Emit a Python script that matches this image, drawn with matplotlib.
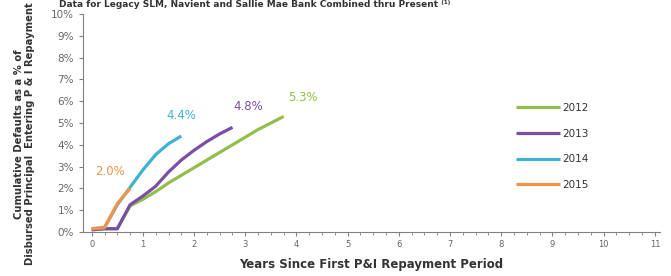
import numpy as np
import matplotlib.pyplot as plt
from matplotlib.ticker import MultipleLocator, FuncFormatter

# data (quarterly points, years since first P&I repayment)
years_2012 = [0, 0.25, 0.5, 0.75, 1.0, 1.25, 1.5, 1.75, 2.0, 2.25, 2.5, 2.75, 3.0, 3.25, 3.5, 3.75]
vals_2012 = [0.1, 0.15, 0.15, 1.2, 1.5, 1.85, 2.25, 2.6, 2.95, 3.3, 3.65, 4.0, 4.35, 4.7, 5.0, 5.3]

years_2013 = [0, 0.25, 0.5, 0.75, 1.0, 1.25, 1.5, 1.75, 2.0, 2.25, 2.5, 2.75]
vals_2013 = [0.1, 0.15, 0.15, 1.25, 1.65, 2.1, 2.75, 3.3, 3.75, 4.15, 4.5, 4.8]

years_2014 = [0, 0.25, 0.5, 0.75, 1.0, 1.25, 1.5, 1.75]
vals_2014 = [0.15, 0.2, 1.25, 2.05, 2.85, 3.55, 4.05, 4.4]

years_2015 = [0, 0.25, 0.5, 0.75]
vals_2015 = [0.15, 0.2, 1.3, 2.0]

labels = ["2012", "2013", "2014", "2015"]
end_labels = ["5.3%", "4.8%", "4.4%", "2.0%"]
colors = ["#92bf4a", "#7a4ea6", "#3fb1d6", "#f2934a"]

fig = plt.figure(figsize=(6.71, 2.76), dpi=100)
ax = fig.add_axes([83 / 671, 44 / 276, 577 / 671, 218 / 276])

series = [(years_2012, vals_2012), (years_2013, vals_2013),
          (years_2014, vals_2014), (years_2015, vals_2015)]
for (x, y), lab, c in zip(series, labels, colors):
    ax.plot(x, y, color=c, lw=2.3, label=lab, solid_capstyle="butt")

# end-of-line labels
offsets = [(13.5, 13.5), (11.5, 15), (0, 14.5), (-14.5, 12)]
for (x, y), txt, c, off in zip(series, end_labels, colors, offsets):
    ax.annotate(txt, (x[-1], y[-1]), xytext=off, textcoords="offset points",
                color=c, fontsize=8.5, ha="center", va="center")

ax.set_xlim(-0.17, 11.1)
ax.set_ylim(0, 10)
ax.xaxis.set_major_locator(MultipleLocator(1))
ax.xaxis.set_minor_locator(MultipleLocator(0.25))
ax.yaxis.set_major_locator(MultipleLocator(1))
ax.yaxis.set_major_formatter(FuncFormatter(lambda v, p: f"{v:.0f}%"))

for s in ["top", "right"]:
    ax.spines[s].set_visible(False)
for s in ["left", "bottom"]:
    ax.spines[s].set_color("#808080")
    ax.spines[s].set_linewidth(0.8)
ax.tick_params(axis="both", which="both", colors="#808080", direction="out")
ax.tick_params(axis="x", which="major", length=3, labelsize=6, labelcolor="#666666", pad=3)
ax.tick_params(axis="x", which="minor", length=2)
ax.tick_params(axis="y", length=3, labelsize=7.5, labelcolor="#666666")

ax.set_xlabel("Years Since First P&I Repayment Period", fontsize=8.5,
              fontweight="bold", color="#333333", labelpad=6)
fig.text(0.036, 0.515, "Cumulative Defaults as a % of\nDisbursed Principal  Entering P & I Repayment",
         rotation=90, ha="center", va="center", fontsize=7.2, fontweight="bold",
         color="#333333", linespacing=1.1)

fig.text(0.38, 1.0, "Data for Legacy SLM, Navient and Sallie Mae Bank Combined thru Present \u207d\u00b9\u207e",
         ha="center", va="top", fontsize=6.5, fontweight="bold", color="#333333")

leg = ax.legend(loc="upper left", bbox_to_anchor=(0.735, 0.635), frameon=False,
                fontsize=7.5, handlelength=4.2, labelspacing=1.5, handletextpad=0.2)
for t in leg.get_texts():
    t.set_color("#333333")

fig.savefig("out.png", dpi=100)
